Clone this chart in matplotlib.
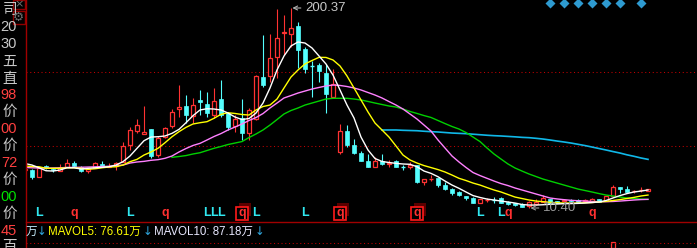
import numpy as np
import matplotlib
matplotlib.use("Agg")
import matplotlib.pyplot as plt
from matplotlib.patches import Rectangle
from matplotlib.lines import Line2D
from matplotlib import transforms

plt.rcParams['font.family'] = ['Liberation Sans', 'Noto Sans CJK SC', 'DejaVu Sans']

# ---- data (prices) ----
days = list(range(-1, 89))
opens = [46.5, 46.5, 40.1, 50.6, 47.9, 45.8, 49.6, 53.4, 49.0, 45.8, 48.1,
         52.2, 49.3, 50.3, 54.4, 70.2, 83.8, 80.4, 85.2, 60.7, 78.1,
         88.3, 104.7, 107.3, 98.1, 113.0, 109.2, 98.7, 113.6, 100.3, 88.7,
         95.6, 81.3, 94.6, 134.6, 135.8, 154.1, 176.4, 175.7, 183.3, 161.2,
         145.0, 146.2, 138.9, 116.1, 63.9, 83.5, 70.2, 62.3, 55.0, 49.6,
         55.3, 51.9, 55.0, 49.3, 49.6, 51.2, 35.4, 38.3, 38.6, 32.7,
         28.1, 25.3, 21.8, 20.2, 15.4, 17.7, 18.3, 20.2, 16.4, 15.4,
         14.6, 12.3, 14.2, 16.4, 18.6, 17.0, 17.0, 18.4, 18.4, 17.0,
         16.4, 18.6, 17.3, 21.8, 30.0, 28.1, 26.2, 27.2, 26.8]
highs = [47.9, 47.4, 49.6, 51.5, 48.4, 52.2, 56.7, 55.3, 50.3, 47.1, 54.4,
         55.3, 53.4, 54.1, 73.1, 87.6, 94.6, 107.3, 85.4, 78.8, 87.6,
         104.2, 127.2, 117.7, 114.6, 122.5, 120.3, 124.1, 132.0, 101.6, 98.7,
         113.6, 105.4, 136.7, 174.7, 175.7, 199.4, 193.7, 200.37, 187.4, 163.6,
         150.3, 148.4, 147.2, 142.2, 90.2, 89.2, 75.6, 64.8, 61.4, 59.1,
         61.7, 56.0, 56.0, 51.2, 54.4, 51.7, 37.6, 41.7, 38.9, 35.4,
         29.1, 26.5, 22.2, 21.1, 19.4, 19.6, 21.1, 20.4, 16.6, 15.6,
         15.1, 16.6, 18.6, 22.7, 18.9, 17.5, 19.4, 18.9, 18.9, 18.9,
         20.2, 18.9, 22.2, 32.2, 30.3, 31.3, 27.9, 30.0, 28.9]
lows = [46.5, 37.9, 39.5, 47.2, 44.6, 45.8, 49.0, 49.6, 44.6, 43.9, 48.1,
        49.3, 49.3, 46.5, 54.1, 65.5, 81.3, 80.4, 57.6, 58.8, 76.6,
        86.1, 97.1, 91.4, 91.4, 98.7, 97.1, 95.6, 96.8, 84.5, 82.8,
        74.9, 74.9, 94.0, 125.6, 130.4, 133.6, 155.7, 163.6, 143.1, 138.9,
        115.6, 130.4, 100.9, 114.6, 61.7, 68.6, 61.7, 55.0, 49.3, 49.6,
        51.2, 49.0, 49.3, 46.5, 47.1, 33.9, 32.2, 36.3, 30.6, 27.5,
        22.7, 21.8, 18.0, 15.1, 15.1, 15.8, 15.4, 15.1, 13.7, 12.7,
        11.3, 10.40, 13.7, 16.1, 14.6, 15.1, 16.6, 16.1, 16.1, 16.6,
        16.1, 16.1, 17.0, 21.3, 24.3, 25.6, 24.6, 25.6, 26.5]
closes = [47.9, 39.8, 48.1, 48.1, 46.5, 48.7, 52.9, 50.6, 45.8, 47.1, 52.9,
          49.6, 50.3, 52.9, 69.3, 84.5, 89.2, 82.6, 59.8, 76.6, 86.1,
          101.9, 106.1, 98.7, 108.2, 111.1, 100.9, 112.0, 98.7, 87.6, 94.6,
          81.3, 103.5, 135.8, 127.2, 152.6, 171.6, 177.9, 181.1, 160.5, 142.2,
          144.3, 140.8, 118.7, 128.2, 83.1, 70.2, 62.9, 55.3, 49.6, 55.0,
          51.9, 53.4, 49.6, 48.7, 51.2, 35.4, 37.6, 38.9, 32.2, 28.9,
          24.3, 22.7, 19.6, 15.4, 18.6, 18.3, 17.7, 15.4, 14.2, 13.2,
          11.8, 16.1, 16.4, 19.6, 15.1, 15.6, 18.4, 16.6, 16.4, 18.0,
          18.6, 16.4, 21.8, 30.6, 28.1, 25.8, 26.8, 27.7, 28.1]

ma5 = [52.6, 51.2, 48.6, 45.8, 45.5, 46.5, 48.6, 48.6, 47.4, 48.1, 48.6,
       49.0, 49.6, 51.2, 54.4, 59.8, 67.1, 74.3, 77.8, 78.1, 78.8,
       81.3, 85.1, 91.4, 98.1, 103.5, 104.7, 104.4, 103.5, 100.6, 96.8,
       94.4, 95.4, 100.6, 110.1, 124.4, 141.5, 154.8, 164.3, 168.1, 167.1,
       162.4, 154.8, 147.2, 136.7, 122.5, 108.2, 95.9, 77.8, 65.5, 57.4,
       54.6, 53.6, 52.8, 52.2, 51.9, 49.6, 45.5, 43.3, 40.1, 36.0,
       32.2, 29.1, 25.6, 22.2, 20.4, 18.9, 18.0, 17.0, 16.1, 15.1,
       13.7, 13.2, 13.2, 13.5, 13.9, 14.2, 14.5, 14.6, 14.8, 15.1,
       15.6, 16.1, 17.5, 19.9, 22.2, 24.1, 25.6, 26.5, 27.5]
ma10 = [50.3, 49.8, 49.6, 48.1, 48.1, 48.1, 48.6, 48.6, 48.1, 47.1, 47.7,
        48.6, 49.3, 49.6, 51.2, 54.4, 56.6, 60.7, 63.6, 67.1, 72.4,
        78.1, 82.9, 87.0, 90.2, 91.4, 92.4, 95.6, 99.4, 100.9, 100.2,
        99.2, 98.7, 103.5, 106.8, 108.2, 113.9, 124.4, 134.8, 141.5, 147.2,
        150.5, 153.5, 153.4, 151.0, 145.3, 135.8, 124.4, 113.0, 101.6, 91.1,
        84.5, 77.8, 69.3, 60.7, 56.0, 53.1, 50.7, 48.8, 46.9, 44.6,
        41.7, 38.6, 36.5, 34.1, 32.2, 29.8, 27.5, 25.6, 23.2, 20.8,
        19.4, 18.0, 17.0, 16.4, 15.8, 15.4, 15.1, 15.1, 15.1, 15.4,
        15.6, 16.1, 16.7, 17.5, 18.4, 19.4, 20.5, 21.8, 22.7]
ma20 = [48.9, 48.6, 48.4, 48.4, 48.4, 48.6, 48.9, 49.0, 49.1, 49.3, 49.5,
        49.8, 50.0, 50.6, 51.2, 53.1, 54.1, 54.7, 55.7, 56.3, 57.6,
        59.8, 63.6, 66.9, 69.8, 71.8, 75.0, 78.3, 81.1, 84.5, 87.3,
        90.2, 93.5, 96.3, 100.1, 105.4, 110.1, 114.9, 117.2, 119.6, 121.5,
        123.4, 124.9, 126.3, 127.2, 126.8, 125.8, 124.4, 122.5, 120.1, 117.7,
        114.9, 111.5, 108.2, 104.4, 99.7, 94.9, 89.2, 83.5, 75.0, 67.4,
        59.8, 54.1, 48.9, 44.1, 41.2, 38.6, 36.0, 33.6, 31.7, 29.4,
        27.5, 25.6, 23.7, 21.8, 19.9, 19.0, 18.3, 17.7, 17.3, 17.0,
        16.6, 16.4, 16.4, 16.6, 17.0, 17.5, 18.0, 18.4, 18.6]
ma60_days = list(range(20, 89))
ma60 = [58.5, 59.3, 60.2, 61.7, 62.9, 65.0, 67.1, 68.8, 70.7, 72.1,
        73.5, 77.3, 80.7, 84.5, 89.2, 94.4, 99.7, 103.0, 105.4, 108.2,
        110.1, 112.0, 113.9, 114.6, 114.6, 114.6, 113.9, 113.0, 111.6, 110.1,
        108.7, 107.3, 106.3, 104.4, 102.1, 100.2, 98.2, 96.4, 93.5, 90.6,
        87.8, 85.4, 82.1, 77.8, 73.5, 67.4, 61.7, 56.9, 52.2, 48.4,
        45.5, 42.7, 40.3, 37.9, 36.0, 34.1, 32.2, 30.3, 28.4, 27.0,
        25.6, 24.1, 22.7, 21.8, 20.8, 19.9, 19.4, 18.9, 18.6]
ma90_days = list(range(50, 89))
ma90 = [84.5, 84.5, 84.5, 84.2, 84.0, 83.8, 83.3, 82.9, 82.6, 82.1,
        81.6, 81.3, 81.0, 80.5, 80.0, 79.5, 79.1, 78.8, 78.4, 78.0,
        77.5, 77.2, 76.6, 75.9, 75.0, 74.0, 73.1, 72.1, 70.9, 69.7,
        68.3, 66.9, 65.5, 64.0, 62.6, 60.9, 59.5, 57.9, 56.6]

grid_levels = [139.6, 69.3]
sig_L = [1, 14, 25, 26, 27, 32, 39, 64, 67]
sig_q = [6, 19, 68, 80]
sig_q_boxed = [30, 44, 55]
event_days = [74, 76, 78, 80, 82, 84, 87]
vol_days = [83]
vol_vals = [318]

side_labels = ["司", "20", "30", "五", "直", "98", "价", "00", "价", "72", "价", "00", "价", "45", "百"]
side_colors = ["#c8c8c8", "#c8c8c8", "#c8c8c8", "#c8c8c8", "#c8c8c8", "#ff4040", "#c8c8c8",
               "#ff4040", "#c8c8c8", "#ff4040", "#c8c8c8", "#00e000", "#c8c8c8", "#ff4040", "#c8c8c8"]

UP = "#ff3232"
DOWN = "#54ffff"
W, H = 697, 248

fig = plt.figure(figsize=(W / 100, H / 100), dpi=100, facecolor="black")


def fx(x):
    return x / W


def fy(y):
    return 1 - y / H


ax = fig.add_axes([fx(26), 27 / H, 671 / W, 221 / H])
ax.set_facecolor("black")
ax.set_xlim(-0.857, 95)
ax.set_ylim(-1.95, 207.97)
for s in ax.spines.values():
    s.set_visible(False)
ax.set_xticks([])
ax.set_yticks([])

for lev in grid_levels:
    ax.axhline(lev, color="#c00000", lw=0.75, ls=(0, (1, 2.6)), zorder=1)

# candles
bw = 0.7
for d, o, h, l, c in zip(days, opens, highs, lows, closes):
    top, bot = max(o, c), min(o, c)
    if c >= o:
        ax.vlines(d, top, h, color=UP, lw=0.8, zorder=2)
        ax.vlines(d, l, bot, color=UP, lw=0.8, zorder=2)
        if top - bot < 0.9:
            ax.hlines(o, d - bw / 2, d + bw / 2, color=UP, lw=1.0, zorder=3)
        else:
            ax.add_patch(Rectangle((d - bw / 2, bot), bw, top - bot, fc="black",
                                   ec=UP, lw=0.9, zorder=3))
    else:
        ax.vlines(d, l, h, color=DOWN, lw=0.8, zorder=2)
        if top - bot < 0.9:
            ax.hlines(o, d - bw / 2, d + bw / 2, color=DOWN, lw=1.0, zorder=3)
        else:
            ax.add_patch(Rectangle((d - bw / 2, bot), bw, top - bot, fc=DOWN,
                                   ec=DOWN, lw=0.5, zorder=3))

# moving averages
ax.plot(ma90_days, ma90, color="#10b8e8", lw=1.2, zorder=4)
ax.plot(ma60_days, ma60, color="#00d000", lw=1.0, zorder=4)
ax.plot(days, ma20, color="#ff80ff", lw=1.0, zorder=4)
ax.plot(days, ma10, color="#ffff00", lw=1.0, zorder=4)
ax.plot(days, ma5, color="#ffffff", lw=1.0, zorder=4)

# high / low marks
hi_i = int(np.argmax(highs))
lo_i = int(np.argmin(lows))
ax.annotate(f"{highs[hi_i]:.2f}", xy=(days[hi_i] + 0.2, highs[hi_i]),
            xytext=(days[hi_i] + 2.0, highs[hi_i]), color="#c8c8c8", fontsize=9.5,
            va="center", ha="left", zorder=6,
            arrowprops=dict(arrowstyle="->,head_length=0.3,head_width=0.15",
                            color="#b0b0b0", lw=0.8, shrinkA=1, shrinkB=0))
ax.annotate(f"{lows[lo_i]:.2f}", xy=(days[lo_i] + 0.2, lows[lo_i]),
            xytext=(days[lo_i] + 2.0, lows[lo_i]), color="#9a9a9a", fontsize=9.5,
            va="center", ha="left", zorder=6,
            arrowprops=dict(arrowstyle="->,head_length=0.3,head_width=0.15",
                            color="#9a9a9a", lw=0.8, shrinkA=1, shrinkB=0))

# signal letters along the bottom
bt = transforms.blended_transform_factory(ax.transData, ax.transAxes)
sig_y = 8 / 221
for d in sig_L:
    ax.text(d, sig_y, "L", transform=bt, color="#30e8f0", fontsize=9,
            fontweight="bold", ha="center", va="center", zorder=6)
for d in sig_q:
    ax.text(d, sig_y, "q", transform=bt, color="#ff3030", fontsize=9,
            fontweight="bold", ha="center", va="center", zorder=6)
for d in sig_q_boxed:
    ax.text(d, sig_y, "q", transform=bt, color="#ff3030", fontsize=9,
            fontweight="bold", ha="center", va="center", zorder=7)
    shadow = transforms.offset_copy(bt, fig=fig, x=3.3 * 0.72, y=4 * 0.72, units="points")
    ax.add_patch(Rectangle((d - 0.86, 1 / 221), 1.72, 13.3 / 221, transform=shadow,
                           fc="#5a0000", ec="none", zorder=5))
    ax.add_patch(Rectangle((d - 0.86, 1 / 221), 1.72, 13.3 / 221, transform=bt,
                           fc="black", ec="#ff1a1a", lw=1.2, zorder=6))

# event diamonds on top
ax.plot(event_days, [1 - 3.3 / 221] * len(event_days), "D", transform=bt,
        color="#2e9ad0", ms=5, mec="none", zorder=6, clip_on=False)

# volume panel (only the tallest bar peeks in)
axv = fig.add_axes([fx(26), 0, 671 / W, 12 / H])
axv.set_facecolor("none")
axv.set_xlim(ax.get_xlim())
axv.set_ylim(0, 600)
axv.axis("off")
axv.bar(vol_days, vol_vals, width=bw, color="black", edgecolor=UP, lw=0.9)

# frame lines
fig.add_artist(Line2D([fx(25.5), fx(25.5)], [0, 1], transform=fig.transFigure,
                      color="#a00000", lw=1.0))
fig.add_artist(Line2D([fx(25.5), 1], [fy(221.5), fy(221.5)], transform=fig.transFigure,
                      color="#a00000", lw=1.0))
fig.add_artist(Line2D([fx(26), 1], [fy(243), fy(243)], transform=fig.transFigure,
                      color="#c00000", lw=0.75, ls=(0, (1, 2.6))))

# left info panel (clipped)
side_y = [10, 27, 43.5, 62, 79, 95, 112, 129, 146, 163, 180, 197, 214, 231, 247]
for s, c, y in zip(side_labels, side_colors, side_y):
    fig.text(fx(17), fy(y), s, color=c, fontsize=10.5, ha="right", va="center")

# top-left icon boxes
fig.add_artist(Rectangle((fx(12.5), fy(8.7)), 12.5 / W, 8.2 / H, transform=fig.transFigure,
                         fill=False, ec="#900000", lw=1.0))
fig.add_artist(Rectangle((fx(12.5), fy(24)), 12.5 / W, 13.3 / H, transform=fig.transFigure,
                         fill=False, ec="#900000", lw=1.0))
fig.text(fx(18.8), fy(4.3), "×", color="#707070", fontsize=8, ha="center", va="center",
         family="DejaVu Sans")
fig.text(fx(18.8), fy(17.3), "⚙", color="#707070", fontsize=9, ha="center", va="center",
         family="DejaVu Sans")

# volume legend line
leg_y = fy(231.5)
fig.text(fx(26), leg_y, "万", color="#c8f0ff", fontsize=8.3, ha="left", va="center")
fig.text(fx(36.5), leg_y, "↓", color="#30a8e0", fontsize=8.3, ha="left", va="center",
         family="DejaVu Sans")
fig.text(fx(48), leg_y, "MAVOL5: 76.61万", color="#ffff00", fontsize=8.3, ha="left", va="center")
fig.text(fx(143), leg_y, "↓", color="#30a8e0", fontsize=8.3, ha="left", va="center",
         family="DejaVu Sans")
fig.text(fx(153.5), leg_y, "MAVOL10: 87.18万", color="#e8e8ff", fontsize=8.3, ha="left",
         va="center")
fig.text(fx(255), leg_y, "↓", color="#30a8e0", fontsize=8.3, ha="left", va="center",
         family="DejaVu Sans")

fig.savefig("out.png", dpi=100, facecolor="black")
